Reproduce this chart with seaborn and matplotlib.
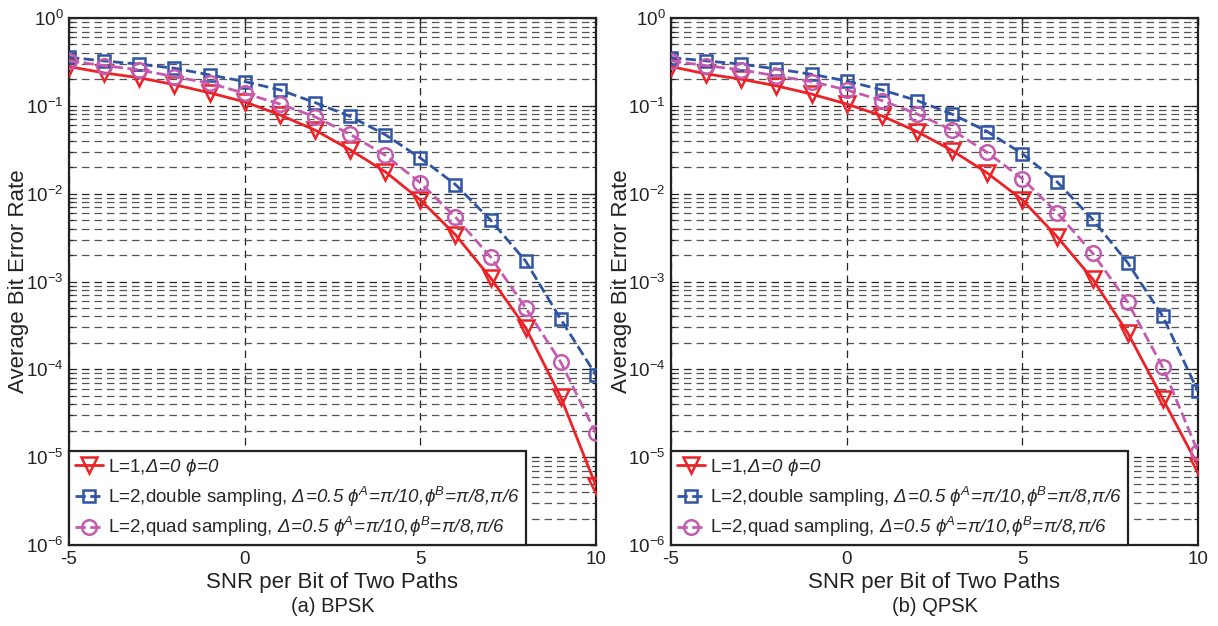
import numpy as np
import pandas as pd
import matplotlib
matplotlib.use("Agg")
import matplotlib.pyplot as plt
import seaborn as sns
from matplotlib.ticker import FixedLocator, FuncFormatter, NullFormatter

# ---------------- data ----------------
snr = [-5, -4, -3, -2, -1, 0, 1, 2, 3, 4, 5, 6, 7, 8, 9, 10]

bpsk_l1 = [0.28, 0.237, 0.209, 0.174, 0.141, 0.111, 0.079, 0.053, 0.0316, 0.0178,
           0.0085, 0.0034, 1.1e-3, 2.97e-4, 4.8e-5, 4.7e-6]
bpsk_double = [0.357, 0.324, 0.298, 0.268, 0.225, 0.189, 0.152, 0.109, 0.076, 0.047,
               0.0255, 0.0127, 5.0e-3, 1.7e-3, 3.7e-4, 8.6e-5]
bpsk_quad = [0.325, 0.287, 0.257, 0.215, 0.181, 0.139, 0.105, 0.075, 0.0475, 0.0274,
             0.0133, 0.0054, 1.9e-3, 5.0e-4, 1.2e-4, 1.86e-5]

qpsk_l1 = [0.28, 0.231, 0.201, 0.169, 0.136, 0.105, 0.077, 0.051, 0.031, 0.0172,
           0.0085, 0.0032, 1.07e-3, 2.6e-4, 4.6e-5, 8.0e-6]
qpsk_double = [0.354, 0.325, 0.298, 0.263, 0.229, 0.192, 0.152, 0.115, 0.0805, 0.051,
               0.0285, 0.0135, 5.1e-3, 1.63e-3, 4.0e-4, 5.6e-5]
qpsk_quad = [0.325, 0.287, 0.257, 0.219, 0.189, 0.152, 0.115, 0.081, 0.053, 0.0295,
             0.0148, 0.006, 2.1e-3, 5.8e-4, 1.05e-4, 1.15e-5]

series_labels = [
    r"L=1,$\mathsf{\Delta\!=\!0\ \phi\!=\!0}$",
    r"L=2,double sampling, $\mathsf{\Delta\!=\!0.5\ \phi^{A}\!=\!\pi/10,\!\phi^{B}\!=\!\pi/8,\!\pi/6}$",
    r"L=2,quad sampling, $\mathsf{\Delta\!=\!0.5\ \phi^{A}\!=\!\pi/10,\!\phi^{B}\!=\!\pi/8,\!\pi/6}$",
]
panel_titles = ["(a) BPSK", "(b) QPSK"]
x_label = "SNR per Bit of Two Paths"
y_label = "Average Bit Error Rate"
x_ticks = [-5, 0, 5, 10]
y_decades = [-6, -5, -4, -3, -2, -1, 0]

# ---------------- style ----------------
sns.set_theme(style="white")
plt.rcParams["font.family"] = ["Liberation Sans", "DejaVu Sans"]
plt.rcParams["axes.unicode_minus"] = False
plt.rcParams["mathtext.fontset"] = "custom"
plt.rcParams["mathtext.rm"] = "Liberation Sans"
plt.rcParams["mathtext.it"] = "Liberation Sans:italic"
plt.rcParams["mathtext.bf"] = "Liberation Sans:bold"
plt.rcParams["mathtext.sf"] = "Liberation Sans:italic"

colors = ["#EC2227", "#2F55A4", "#C45BB0"]
markers = ["v", "s", "o"]
msizes = [11, 8.5, 10.5]
lstyles = ["-", "--", "--"]

fig = plt.figure(figsize=(12.18, 6.26), dpi=100)
W, H = 1218, 626
ax_rects = [
    [69 / W, (H - 545) / H, (596 - 69) / W, (545 - 18) / H],
    [671 / W, (H - 545) / H, (1198 - 671) / W, (545 - 18) / H],
]
panels = [
    [bpsk_l1, bpsk_double, bpsk_quad],
    [qpsk_l1, qpsk_double, qpsk_quad],
]

major_y = [10.0 ** d for d in y_decades]
minor_y = [m * 10.0 ** d for d in y_decades[:-1] for m in range(2, 10)]

for p, (rect, data) in enumerate(zip(ax_rects, panels)):
    ax = fig.add_axes(rect)
    for i, ys in enumerate(data):
        df = pd.DataFrame({"snr": snr, "ber": ys})
        sns.lineplot(data=df, x="snr", y="ber", ax=ax, color=colors[i],
                     linestyle=lstyles[i], linewidth=2.0, marker=markers[i],
                     markersize=msizes[i], markerfacecolor="none",
                     markeredgecolor=colors[i], markeredgewidth=1.8,
                     label=series_labels[i], zorder=5)
    ax.set_yscale("log")
    ax.set_xlim(-5, 10)
    ax.set_ylim(1e-6, 1)
    ax.xaxis.set_major_locator(FixedLocator(x_ticks))
    ax.yaxis.set_major_locator(FixedLocator(major_y))
    ax.yaxis.set_minor_locator(FixedLocator(minor_y))
    ax.yaxis.set_minor_formatter(NullFormatter())
    ax.yaxis.set_major_formatter(FuncFormatter(lambda v, pos: r"$\mathregular{10^{%d}}$" % int(round(np.log10(v)))))

    ax.grid(True, which="major", axis="both", color="#222222", linestyle=(0, (6, 4)), linewidth=0.9)
    ax.grid(True, which="minor", axis="y", color="#555555", linestyle=(0, (6, 4)), linewidth=0.9)

    ax.tick_params(axis="both", which="major", direction="in", length=5, width=1,
                   top=True, right=True, labelsize=13.5, colors="#222222", pad=4)
    ax.tick_params(axis="y", which="minor", direction="in", length=3, width=0.8,
                   left=True, right=True)
    for s in ax.spines.values():
        s.set_color("#222222")
        s.set_linewidth(1.6)

    ax.set_xlabel(x_label, fontsize=16, color="#222222", labelpad=3)
    ax.set_ylabel(y_label, fontsize=16, color="#222222")
    ax.yaxis.label.set_verticalalignment("center")
    ax.yaxis.set_label_coords((19 - 69) / 527, 0.5)

    leg = ax.legend(loc="lower left", borderaxespad=0, fontsize=13.5, frameon=True,
                    fancybox=False, handlelength=1.5, handletextpad=0.3,
                    borderpad=0.3, labelspacing=0.35)
    leg.get_frame().set_edgecolor("#222222")
    leg.get_frame().set_linewidth(1.6)
    leg.get_frame().set_alpha(1)
    leg.set_zorder(10)

    cx = rect[0] + rect[2] / 2
    fig.text(cx, 1 - 607 / H, panel_titles[p], ha="center", va="center",
             fontsize=14.5, color="#222222")

fig.savefig("out.png", dpi=100)
